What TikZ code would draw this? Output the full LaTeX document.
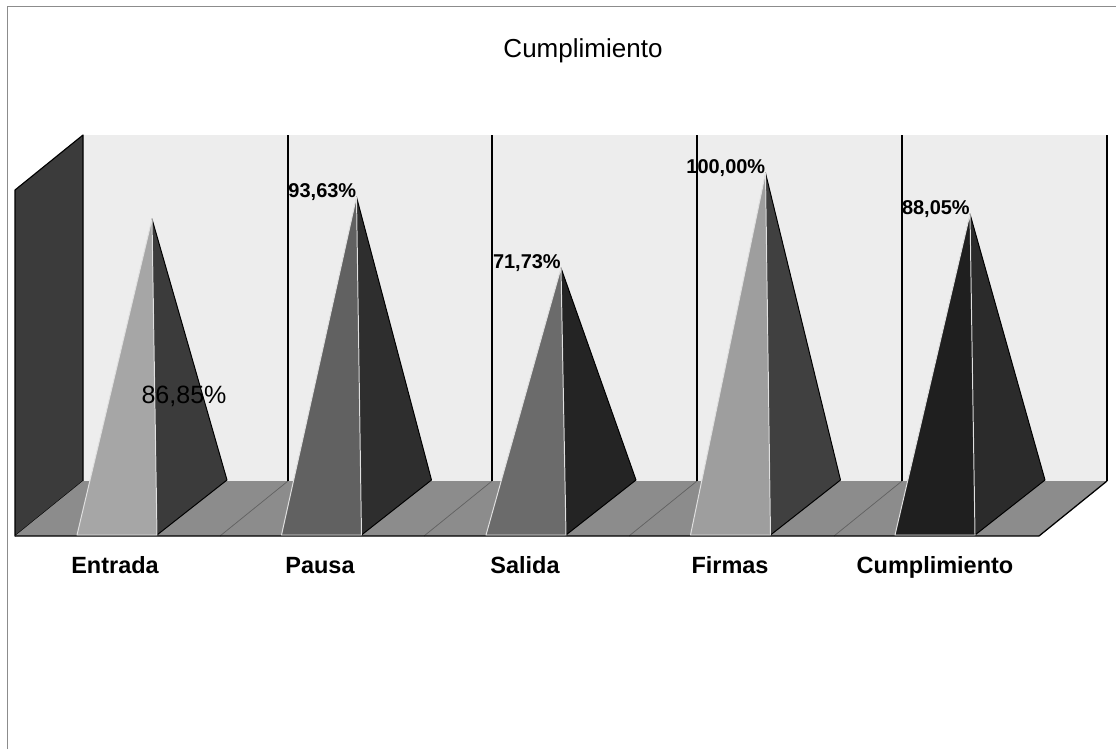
\documentclass[tikz,border=0pt]{standalone}
\usepackage{fontspec}
\setmainfont{Liberation Sans}
\usepackage{xcolor}
\usepackage{tikz}
\tikzset{
    wall/.style = {fill=black!7},
    sidewall/.style = {fill=black!77, draw=black, line width=0.8pt, line join=round},
    floorbox/.style = {fill=black!45},
    edge/.style = {draw=black, line width=0.9pt, line join=round},
    divider/.style = {draw=black, line width=0.9pt},
    floorline/.style = {draw=black!62, line width=0.5pt},
    frontface/.style = {draw=black!12, line width=0.7pt, line join=round},
    sideface/.style = {draw=black, line width=0.7pt, line join=round},
    catlabel/.style = {anchor=base, font=\fontsize{16.7}{18}\selectfont\bfseries, text centered},
    vallabel/.style = {anchor=base east, inner sep=0pt, font=\fontsize{14.2}{15}\selectfont\bfseries}
}

\begin{document}
\begin{tikzpicture}[x=0.025cm, y=-0.025cm]
\useasboundingbox (0,0) rectangle (1116,749);
\fill[white] (0,0) rectangle (1116,749);
\draw[black!45, line width=0.6pt] (7,749) -- (7,6) -- (1116,6);

% walls and floor
\fill[wall] (83,135) rectangle (1107,481);
\draw[sidewall] (15,536) -- (15,190) -- (83,135) -- (83,481) -- cycle;
\fill[floorbox] (15,536) -- (83,481) -- (1107,481) -- (1039,536) -- cycle;
\draw[floorline] (288,481) -- (220,536);
\draw[floorline] (492,481) -- (424,536);
\draw[floorline] (697,481) -- (629,536);
\draw[floorline] (902,481) -- (834,536);
\draw[edge] (15,536) -- (1039,536) -- (1107,481);
\draw[divider] (288,135) -- (288,481);
\draw[divider] (492,135) -- (492,481);
\draw[divider] (697,135) -- (697,481);
\draw[divider] (902,135) -- (902,481);
\draw[divider] (1107,135) -- (1107,481);

% pyramids
\coordinate (apexEntrada) at (152,219);
\coordinate (apexPausa) at (356.5,197);
\coordinate (apexSalida) at (561,268);
\coordinate (apexFirmas) at (765.5,173);
\coordinate (apexCumpl) at (970,214);

\draw[sideface, fill=black!77] (157,535) -- (227,480) -- (apexEntrada) -- cycle;
\draw[frontface, fill=black!35] (77,535) -- (157,535) -- (apexEntrada) -- cycle;
\draw[sideface, fill=black!82] (361.5,535) -- (431.5,480) -- (apexPausa) -- cycle;
\draw[frontface, fill=black!62] (281.5,535) -- (361.5,535) -- (apexPausa) -- cycle;
\draw[sideface, fill=black!86] (566,535) -- (636,480) -- (apexSalida) -- cycle;
\draw[frontface, fill=black!58] (486,535) -- (566,535) -- (apexSalida) -- cycle;
\draw[sideface, fill=black!75] (770.5,535) -- (840.5,480) -- (apexFirmas) -- cycle;
\draw[frontface, fill=black!38] (690.5,535) -- (770.5,535) -- (apexFirmas) -- cycle;
\draw[sideface, fill=black!83] (975,535) -- (1045,480) -- (apexCumpl) -- cycle;
\draw[frontface, fill=black!88] (895,535) -- (975,535) -- (apexCumpl) -- cycle;

% texts
\node (title) at (583,51) {\fontsize{18.5}{20}\selectfont Cumplimiento};
\node (valEntrada) at (184,396) {\fontsize{17.8}{19}\selectfont 86,85\%};
\node (valPausa) [vallabel] at (apexPausa) {93,63\%};
\node (valSalida) [vallabel] at (apexSalida) {71,73\%};
\node (valFirmas) [vallabel] at (apexFirmas) {100,00\%};
\node (valCumpl) [vallabel] at (apexCumpl) {88,05\%};
\node (entrada) [catlabel] at (115,573) {Entrada};
\node (pausa) [catlabel] at (320,573) {Pausa};
\node (salida) [catlabel] at (525,573) {Salida};
\node (firmas) [catlabel] at (730,573) {Firmas};
\node (cumpl) [catlabel] at (935,573) {Cumplimiento};
\end{tikzpicture}
\end{document}
